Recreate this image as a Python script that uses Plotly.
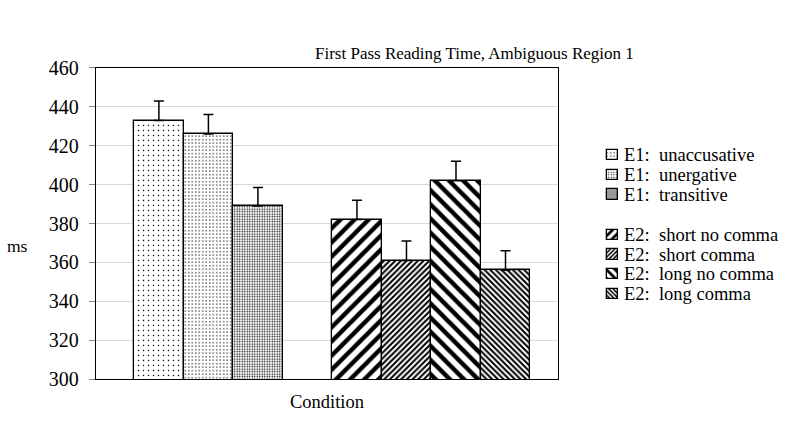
import plotly.graph_objects as go

# ---- data ----
labels = ["E1:\u00a0 unaccusative", "E1:\u00a0 unergative", "E1:\u00a0 transitive",
          "E2:\u00a0 short no comma", "E2:\u00a0 short comma",
          "E2:\u00a0 long no comma", "E2:\u00a0 long comma"]
groups = ["E1", "E1", "E1", "E2", "E2", "E2", "E2"]
means = [433, 426, 389, 382, 361, 402, 356]
errors = [10, 10, 9.5, 10, 10, 10, 10]
y_ticks = [300, 320, 340, 360, 380, 400, 420, 440, 460]

# ---- styles ----
patterns = [
    dict(shape=".", size=5, solidity=0.07),
    dict(shape=".", size=3.5, solidity=0.13),
    dict(shape=".", size=2.5, solidity=0.28),
    dict(shape="/", size=10, solidity=0.45),
    dict(shape="/", size=4, solidity=0.50),
    dict(shape="\\", size=10, solidity=0.45),
    dict(shape="\\", size=4, solidity=0.50),
]
legend_patterns = [
    dict(shape=".", size=3.5, solidity=0.12),
    dict(shape=".", size=2.5, solidity=0.22),
    dict(shape=".", size=2, solidity=0.45),
    dict(shape="/", size=6, solidity=0.45),
    dict(shape="/", size=3, solidity=0.5),
    dict(shape="\\", size=6, solidity=0.45),
    dict(shape="\\", size=3, solidity=0.5),
]

serif = "Liberation Serif, Times New Roman, serif"
W, H = 812, 429
# plot area in pixels
PL, PR, PT, PB = 96, 558, 60, 388

fig = go.Figure()
slot = 0
prev = None
for i, lab in enumerate(labels):
    if prev is not None and groups[i] != prev:
        slot += 1  # gap between experiments
    prev = groups[i]
    p = patterns[i]
    fig.add_trace(go.Bar(
        x=[slot], y=[means[i]], name=lab, width=1.0, showlegend=False,
        marker=dict(color="white",
                    line=dict(color="black", width=1.3),
                    pattern=dict(shape=p["shape"], size=p["size"], solidity=p["solidity"],
                                 fgcolor="black", bgcolor="white", fillmode="replace")),
        error_y=dict(type="data", symmetric=False, array=[errors[i]], arrayminus=[0],
                     color="black", thickness=1.5, width=5),
        xaxis="x", yaxis="y",
    ))
    slot += 1

# ---- manual legend (swatches drawn on a pixel-scaled overlay axis) ----
sw = 11
leg_x0 = 607
text_x = 622
row_y = []
y = 152
prev = None
for i, g in enumerate(groups):
    if prev is not None and g != prev:
        y += 21.5
    row_y.append(y)
    y += 20.8
    prev = g

annotations = []
for i, lab in enumerate(labels):
    p = legend_patterns[i]
    fig.add_trace(go.Bar(
        x=[leg_x0 + sw / 2], y=[sw], base=[row_y[i] - sw / 2], width=sw,
        showlegend=False, hoverinfo="skip",
        marker=dict(color="white", line=dict(color="black", width=1.3),
                    pattern=dict(shape=p["shape"], size=p["size"], solidity=p["solidity"],
                                 fgcolor="black", bgcolor="white", fillmode="replace")),
        xaxis="x2", yaxis="y2",
    ))
    annotations.append(dict(text=lab, x=text_x / W, y=1 - row_y[i] / H, xref="paper", yref="paper",
                            xanchor="left", yanchor="middle", showarrow=False,
                            font=dict(size=18.5)))

annotations += [
    dict(text="First Pass Reading Time, Ambiguous Region 1", x=474 / W, y=1 - 45 / H,
         xref="paper", yref="paper", xanchor="center", yanchor="middle",
         showarrow=False, font=dict(size=17)),
    dict(text="ms", x=17 / W, y=1 - 248 / H, xref="paper", yref="paper",
         xanchor="center", yanchor="middle", showarrow=False, font=dict(size=17.5)),
    dict(text="Condition", x=(PL + PR) / 2 / W, y=1 - 412 / H, xref="paper", yref="paper",
         xanchor="center", yanchor="middle", showarrow=False, font=dict(size=18.5)),
]

fig.update_layout(
    width=W, height=H,
    paper_bgcolor="white", plot_bgcolor="rgba(0,0,0,0)",
    margin=dict(l=0, r=0, t=0, b=0),
    font=dict(family=serif, color="black", size=16),
    showlegend=False,
    bargap=0,
    annotations=annotations,
    xaxis=dict(domain=[PL / W, PR / W], range=[-1.27, 8.06], showticklabels=False,
               showgrid=False, showline=True, linecolor="black", linewidth=1.3,
               mirror=True, zeroline=False, ticks=""),
    yaxis=dict(domain=[1 - PB / H, 1 - PT / H], range=[300, 460], tickvals=y_ticks,
               showgrid=True, gridcolor="#d9d9d9", gridwidth=1, showline=True,
               linecolor="black", linewidth=1.3, mirror=True, ticks="outside",
               ticklen=6, tickcolor="#888", zeroline=False, ticklabelstandoff=6,
               tickfont=dict(size=20, family=serif)),
    xaxis2=dict(domain=[0, 1], range=[0, W], visible=False, anchor="y2"),
    yaxis2=dict(domain=[0, 1], range=[H, 0], visible=False, anchor="x2"),
)

fig.write_html("out.html", config={"displayModeBar": False},
               post_script="document.body.style.margin='0px';")
